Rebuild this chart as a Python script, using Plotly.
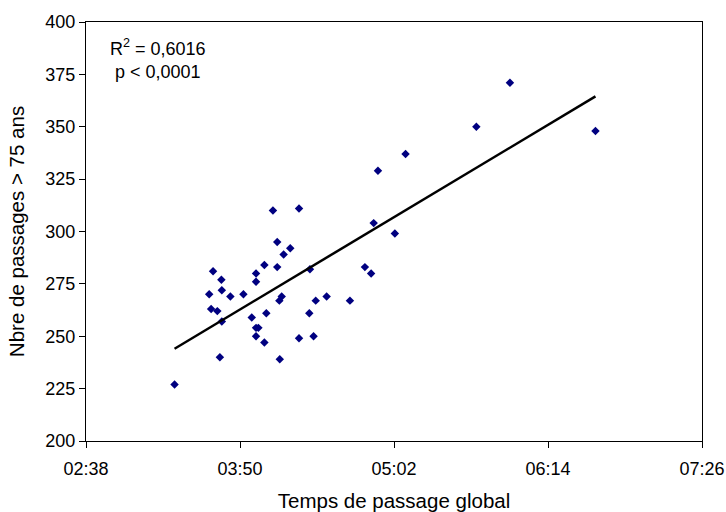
import numpy as np
import plotly.graph_objects as go

# Temps de passage global (minutes since 00:00)
temps_min = [245.4, 257.6, 247.4, 253.5, 250.4, 241.4, 237.5, 247.4, 262.7, 217.4,
             221.3, 237.5, 221.5, 215.6, 225.5, 231.6, 249.5, 248.4, 270.5, 265.4,
             281.4, 216.5, 219.4, 235.5, 242.3, 262.4, 221.5, 237.5, 238.6, 237.5,
             241.4, 257.6, 264.4, 220.6, 248.6, 199.4, 307.4, 294.5, 292.5, 302.4,
             288.4, 291.3, 356.2, 396.2, 340.5]
# Nbre de passages > 75 ans
passages = [310, 311, 295, 292, 289, 284, 280, 283, 282, 281,
            277, 276, 272, 270, 269, 270, 269, 267, 269, 267,
            267, 263, 262, 259, 261, 261, 257, 254, 254, 250,
            247, 249, 250, 240, 239, 227, 337, 329, 304, 299,
            283, 280, 371, 348, 350]

x_tick_labels = ["02:38", "03:50", "05:02", "06:14", "07:26"]
y_ticks = [200, 225, 250, 275, 300, 325, 350, 375, 400]
stats_text = ["R<sup>2</sup> = 0,6016", "p < 0,0001"]


def to_min(s):
    h, m = s.split(":")
    return int(h) * 60 + int(m)


x_tick_vals = [to_min(s) for s in x_tick_labels]

x = np.array(temps_min)
y = np.array(passages)
slope, intercept = np.polyfit(x, y, 1)
x_line = np.array([x.min(), x.max()])
y_line = slope * x_line + intercept

FONT = "Liberation Sans, Arial, sans-serif"

fig = go.Figure()
fig.add_trace(go.Scatter(
    x=x, y=y, mode="markers",
    marker=dict(symbol="diamond", size=6.5, color="#000080",
                line=dict(width=0)),
    showlegend=False, hoverinfo="x+y",
))
fig.add_trace(go.Scatter(
    x=x_line, y=y_line, mode="lines",
    line=dict(color="black", width=2.5),
    showlegend=False, hoverinfo="skip",
))

fig.add_annotation(
    xref="paper", yref="paper", x=0.1173, y=0.938,
    text=stats_text[0], showarrow=False, xanchor="center", yanchor="middle",
    font=dict(family=FONT, size=18, color="black"),
)
fig.add_annotation(
    xref="paper", yref="paper", x=0.1173, y=0.880,
    text=stats_text[1], showarrow=False, xanchor="center", yanchor="middle",
    font=dict(family=FONT, size=18, color="black"),
)

fig.update_layout(
    width=726, height=512,
    margin=dict(l=86, r=24, t=22, b=71, autoexpand=False),
    paper_bgcolor="white", plot_bgcolor="white",
    font=dict(family=FONT, size=18, color="black"),
    xaxis=dict(
        range=[x_tick_vals[0], x_tick_vals[-1]],
        tickvals=x_tick_vals, ticktext=x_tick_labels,
        showgrid=False, zeroline=False,
        showline=True, linecolor="black", linewidth=1, mirror=True,
        ticks="outside", ticklen=6, tickcolor="black", tickwidth=1,
        ticklabelstandoff=5,
        tickfont=dict(family=FONT, size=18, color="black"),
        title=dict(text="Temps de passage global",
                   font=dict(family=FONT, size=20.5, color="black"),
                   standoff=19),
        automargin=False,
    ),
    yaxis=dict(
        range=[200, 400],
        tickvals=y_ticks,
        showgrid=False, zeroline=False,
        showline=True, linecolor="black", linewidth=1, mirror=True,
        ticks="outside", ticklen=6, tickcolor="black", tickwidth=1,
        tickfont=dict(family=FONT, size=18, color="black"),
        title=dict(text="Nbre de passages > 75 ans",
                   font=dict(family=FONT, size=20.5, color="black"),
                   standoff=15),
        automargin=False,
    ),
)

fig.write_html(
    "out.html",
    config={"displayModeBar": False},
    post_script="document.body.style.margin='0';document.body.style.padding='0';",
)
